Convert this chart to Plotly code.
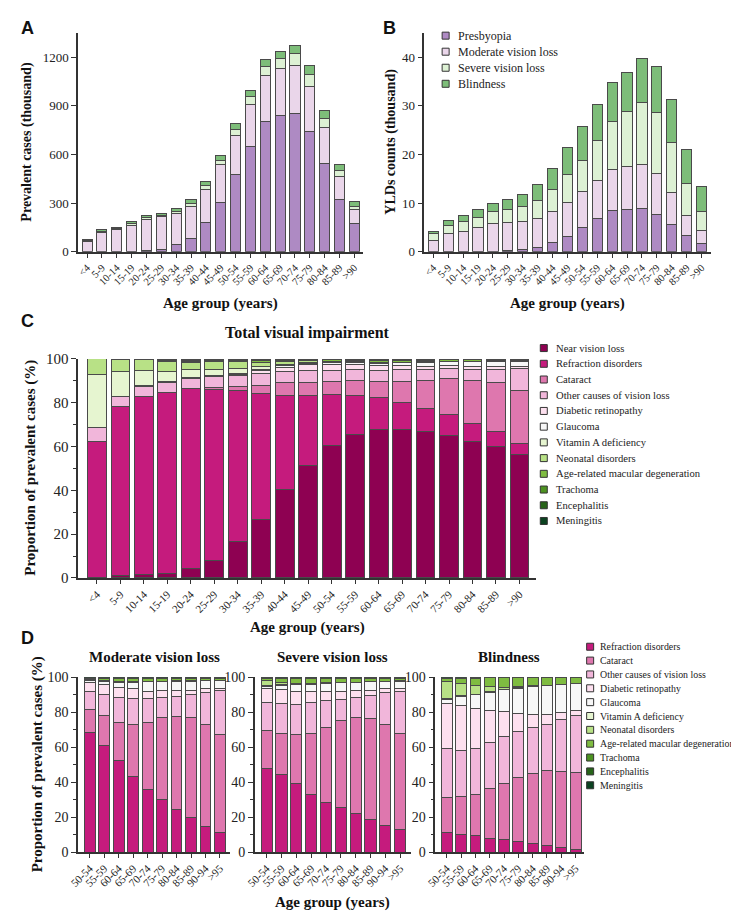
import plotly.graph_objects as go

W, H = 739, 912


def px(v):
    return v / W


def py(v):
    return 1 - v / H


age_groups = ["<4", "5-9", "10-14", "15-19", "20-24", "25-29", "30-34", "35-39", "40-44",
              "45-49", "50-54", "55-59", "60-64", "65-69", "70-74", "75-79", "80-84", "85-89", ">90"]
older_groups = ["50-54", "55-59", "60-64", "65-69", "70-74", "75-79", "80-84", "85-89", "90-94", ">95"]

# Panel A / B: severity
severity_levels = ["Presbyopia", "Moderate vision loss", "Severe vision loss", "Blindness"]
severity_colors = ["#ae8ac3", "#ead6ea", "#ddf1d4", "#7dbd79"]

cases_presbyopia = [0, 0, 0, 0, 5, 15, 45, 80, 178, 303, 475, 648, 800, 838, 850, 740, 543, 322, 172]
cases_moderate = [66, 118, 135, 165, 195, 200, 190, 200, 207, 232, 240, 262, 285, 292, 300, 280, 222, 140, 86]
cases_severe = [5, 10, 8, 8, 13, 10, 15, 20, 25, 27, 37, 45, 55, 60, 70, 70, 57, 40, 22]
cases_blindness = [7, 7, 9, 12, 12, 13, 15, 20, 25, 33, 38, 40, 45, 45, 50, 55, 48, 38, 30]

ylds_presbyopia = [0, 0, 0, 0, 0, 0.2, 0.4, 0.8, 1.9, 3.2, 5.0, 6.8, 8.4, 8.7, 8.9, 7.7, 5.6, 3.3, 1.8]
ylds_moderate = [2.4, 3.7, 4.1, 5.0, 5.9, 5.9, 5.9, 6.1, 6.4, 6.9, 7.3, 7.9, 8.6, 8.9, 9.1, 8.4, 6.5, 4.2, 2.5]
ylds_severe = [1.3, 1.8, 2.1, 2.1, 2.4, 2.6, 3.0, 3.6, 4.4, 5.7, 6.5, 8.1, 9.8, 11.2, 12.6, 12.5, 10.3, 6.6, 4.0]
ylds_blindness = [0.5, 1.0, 1.3, 1.6, 1.7, 2.0, 2.5, 3.4, 4.5, 5.7, 6.9, 7.4, 8.0, 8.0, 9.0, 9.4, 8.9, 6.9, 5.2]

# Panel C / D: causes
causes = ["Near vision loss", "Refraction disorders", "Cataract", "Other causes of vision loss",
          "Diabetic retinopathy", "Glaucoma", "Vitamin A deficiency", "Neonatal disorders",
          "Age-related macular degeneration", "Trachoma", "Encephalitis", "Meningitis"]
cause_colors = ["#8e0152", "#c51b7d", "#de77ae", "#f1b6da", "#fde0ef", "#f7f7f7",
                "#e6f5d0", "#b8e186", "#7fbc41", "#4d9221", "#276419", "#0b4220"]

total_share = {
    "Near vision loss": [0.3, 1.0, 1.5, 2.0, 4.2, 7.8, 16.8, 26.5, 40.5, 51.3, 60.4, 65.3, 67.8, 67.8, 67.0, 65.2, 62.5, 60.2, 56.5],
    "Refraction disorders": [62.0, 77.2, 81.2, 82.5, 82.1, 78.2, 68.6, 57.5, 42.8, 31.8, 23.2, 18.2, 14.5, 12.2, 10.5, 9.3, 8.2, 6.5, 4.8],
    "Cataract": [0.2, 0.1, 0.1, 0.2, 0.3, 1.0, 2.1, 4.0, 5.7, 6.1, 6.2, 6.5, 7.5, 9.5, 12.7, 16.5, 19.3, 22.3, 24.1],
    "Other causes of vision loss": [6.0, 4.3, 4.7, 4.6, 4.4, 4.8, 5.0, 5.3, 5.3, 5.6, 5.1, 5.0, 5.0, 5.5, 5.1, 4.5, 5.3, 6.2, 10.1],
    "Diabetic retinopathy": [0.1, 0.1, 0.1, 0.1, 0.2, 0.2, 0.5, 1.2, 1.9, 2.7, 2.6, 2.3, 2.0, 1.8, 1.3, 1.3, 1.3, 1.4, 1.2],
    "Glaucoma": [0.2, 0.1, 0.1, 0.1, 0.2, 0.2, 0.5, 0.7, 0.8, 0.5, 0.7, 0.9, 1.2, 1.4, 1.8, 1.8, 2.0, 2.3, 2.3],
    "Vitamin A deficiency": [24.2, 11.6, 6.8, 4.9, 3.6, 3.0, 2.3, 1.3, 0.6, 0.3, 0.3, 0.2, 0.2, 0.1, 0.1, 0.1, 0.1, 0.1, 0.1],
    "Neonatal disorders": [7.0, 5.5, 5.3, 4.5, 3.5, 3.4, 2.8, 2.0, 1.2, 0.8, 0.5, 0.3, 0.3, 0.2, 0.2, 0.2, 0.2, 0.1, 0.1],
    "Age-related macular degeneration": [0, 0.1, 0.1, 0.3, 0.5, 0.5, 0.5, 0.7, 0.6, 0.4, 0.5, 0.6, 0.7, 0.7, 0.6, 0.6, 0.6, 0.5, 0.4],
    "Trachoma": [0, 0, 0.05, 0.3, 0.3, 0.3, 0.3, 0.3, 0.2, 0.2, 0.2, 0.3, 0.4, 0.3, 0.3, 0.2, 0.2, 0.2, 0.2],
    "Encephalitis": [0, 0, 0.05, 0.3, 0.4, 0.3, 0.3, 0.3, 0.2, 0.15, 0.15, 0.2, 0.2, 0.3, 0.2, 0.15, 0.15, 0.1, 0.1],
    "Meningitis": [0, 0, 0, 0.2, 0.3, 0.3, 0.3, 0.2, 0.2, 0.15, 0.15, 0.2, 0.2, 0.2, 0.2, 0.15, 0.15, 0.1, 0.1],
}

moderate_share = {
    "Refraction disorders": [68.2, 60.9, 52.2, 43.0, 35.8, 30.2, 24.3, 19.5, 14.6, 11.0],
    "Cataract": [13.3, 17.2, 22.1, 29.7, 38.5, 46.9, 53.4, 57.6, 58.1, 56.5],
    "Other causes of vision loss": [10.6, 12.2, 14.2, 15.1, 13.5, 11.3, 11.3, 12.9, 18.5, 24.7],
    "Diabetic retinopathy": [4.7, 5.4, 5.4, 5.5, 4.2, 3.8, 3.5, 2.6, 2.1, 1.6],
    "Glaucoma": [1.1, 1.6, 2.8, 3.7, 5.4, 5.3, 5.2, 5.2, 4.6, 4.1],
    "Vitamin A deficiency": [0.3, 0.3, 0.3, 0.2, 0.1, 0.1, 0.1, 0.1, 0.1, 0.1],
    "Neonatal disorders": [0.4, 0.4, 0.3, 0.2, 0.1, 0.1, 0.1, 0.1, 0.1, 0.1],
    "Age-related macular degeneration": [0.7, 1.2, 1.7, 1.7, 1.6, 1.6, 1.5, 1.4, 1.4, 1.4],
    "Trachoma": [0.3, 0.3, 0.4, 0.4, 0.3, 0.3, 0.2, 0.2, 0.2, 0.2],
    "Encephalitis": [0.2, 0.3, 0.3, 0.3, 0.3, 0.2, 0.2, 0.2, 0.2, 0.2],
    "Meningitis": [0.2, 0.2, 0.3, 0.2, 0.2, 0.2, 0.2, 0.2, 0.1, 0.1],
}

severe_share = {
    "Refraction disorders": [47.6, 44.1, 39.0, 33.0, 28.5, 25.7, 21.9, 18.9, 15.0, 12.7],
    "Cataract": [21.7, 23.9, 28.1, 34.7, 43.0, 49.8, 54.9, 57.6, 57.7, 55.0],
    "Other causes of vision loss": [16.3, 16.7, 17.4, 17.9, 15.2, 12.0, 11.8, 13.2, 18.5, 24.4],
    "Diabetic retinopathy": [8.2, 8.2, 7.3, 6.0, 4.9, 4.1, 3.6, 2.9, 2.1, 1.7],
    "Glaucoma": [1.0, 2.1, 3.9, 4.1, 4.7, 5.2, 4.8, 4.7, 4.3, 4.0],
    "Vitamin A deficiency": [0.7, 0.6, 0.3, 0.3, 0.2, 0.1, 0.1, 0.1, 0.1, 0.1],
    "Neonatal disorders": [2.5, 1.4, 0.6, 0.5, 0.3, 0.1, 0.1, 0.1, 0.1, 0.1],
    "Age-related macular degeneration": [1.3, 2.0, 2.4, 2.5, 2.2, 2.2, 2.1, 1.9, 1.7, 1.5],
    "Trachoma": [0.3, 0.4, 0.4, 0.4, 0.4, 0.3, 0.3, 0.3, 0.2, 0.2],
    "Encephalitis": [0.25, 0.3, 0.3, 0.3, 0.3, 0.3, 0.2, 0.15, 0.15, 0.15],
    "Meningitis": [0.15, 0.3, 0.3, 0.3, 0.3, 0.2, 0.2, 0.15, 0.15, 0.15],
}

blindness_share = {
    "Refraction disorders": [11.2, 10.3, 9.3, 8.0, 7.1, 6.0, 4.9, 3.9, 2.6, 1.7],
    "Cataract": [20.0, 21.5, 23.6, 28.1, 32.3, 36.4, 39.9, 43.0, 43.7, 43.7],
    "Other causes of vision loss": [28.1, 26.2, 26.1, 26.4, 26.6, 26.4, 26.3, 26.2, 29.6, 32.5],
    "Diabetic retinopathy": [25.7, 26.0, 23.2, 18.5, 14.6, 10.6, 7.8, 5.8, 4.1, 3.1],
    "Glaucoma": [2.0, 5.0, 7.8, 10.4, 12.1, 14.4, 16.0, 16.4, 15.9, 15.4],
    "Vitamin A deficiency": [0.8, 0.5, 0.3, 0.3, 0.2, 0.2, 0.1, 0.1, 0.1, 0.1],
    "Neonatal disorders": [10.0, 6.9, 4.7, 2.8, 1.1, 0.5, 0.2, 0.1, 0.1, 0.1],
    "Age-related macular degeneration": [1.4, 2.8, 4.5, 5.1, 5.6, 5.2, 4.6, 4.3, 3.7, 3.2],
    "Trachoma": [0.3, 0.3, 0.2, 0.15, 0.15, 0.1, 0.1, 0.1, 0.1, 0.1],
    "Encephalitis": [0.3, 0.3, 0.15, 0.15, 0.15, 0.1, 0.05, 0.05, 0.05, 0.05],
    "Meningitis": [0.2, 0.2, 0.15, 0.1, 0.1, 0.1, 0.05, 0.05, 0.05, 0.05],
}

SERIF = "Liberation Serif, Times New Roman, serif"
SANS = "Liberation Sans, Arial, sans-serif"
AXIS_COLOR = "#333333"
EDGE = dict(color="#4a4a4a", width=1)

fig = go.Figure()

# A and B
for name, color, cases, ylds in zip(
        severity_levels, severity_colors,
        [cases_presbyopia, cases_moderate, cases_severe, cases_blindness],
        [ylds_presbyopia, ylds_moderate, ylds_severe, ylds_blindness]):
    fig.add_trace(go.Bar(x=age_groups, y=cases, name=name, width=0.68,
                         marker=dict(color=color, line=EDGE),
                         xaxis="x", yaxis="y", showlegend=False))
    fig.add_trace(go.Bar(x=age_groups, y=ylds, name=name, width=0.68,
                         marker=dict(color=color, line=EDGE),
                         xaxis="x2", yaxis="y2", showlegend=False))

# C
for name, color in zip(causes, cause_colors):
    fig.add_trace(go.Bar(x=age_groups, y=total_share[name], name=name, width=0.8,
                         marker=dict(color=color, line=EDGE),
                         xaxis="x3", yaxis="y3", showlegend=False))

# D
for shares, xa, ya in [(moderate_share, "x4", "y4"), (severe_share, "x5", "y5"),
                       (blindness_share, "x6", "y6")]:
    for name, color in zip(causes[1:], cause_colors[1:]):
        fig.add_trace(go.Bar(x=older_groups, y=shares[name], name=name, width=0.75,
                             marker=dict(color=color, line=EDGE),
                             xaxis=xa, yaxis=ya, showlegend=False))

# hand-made legends drawn as square markers on hidden axes
legend_specs = [
    ("x7", "y7", severity_levels, severity_colors, 433.5, 20, 69, 11.5, 12),
    ("x8", "y8", causes, cause_colors, 533, 338, 514, 11, 10.6),
    ("x9", "y9", causes[1:], cause_colors[1:], 580, 642, 783, 9, 9.9),
]
annotations = []
legend_axes = {}
for xa, ya, labels, colors, x0, top, bottom, shift, fsize in legend_specs:
    n = len(labels)
    step = (bottom - top) / (n - 1)
    fig.add_trace(go.Scatter(x=[0] * n, y=list(range(n)), mode="markers",
                             marker=dict(symbol="square", size=7, color=colors,
                                         line=dict(color="#333333", width=1)),
                             cliponaxis=False, hoverinfo="skip", showlegend=False,
                             xaxis=xa, yaxis=ya))
    legend_axes["xaxis" + xa[1:]] = dict(domain=[px(x0), 1], range=[0, 1], visible=False,
                                         anchor=ya, fixedrange=True)
    legend_axes["yaxis" + ya[1:]] = dict(domain=[py(bottom + step / 2), py(top - step / 2)],
                                         range=[n - 0.5, -0.5], visible=False,
                                         anchor=xa, fixedrange=True)
    for i, lab in enumerate(labels):
        annotations.append(dict(x=0, y=i, xref=xa, yref=ya, text=lab, showarrow=False,
                                xanchor="left", yanchor="middle", xshift=shift, borderpad=0,
                                font=dict(family=SERIF, size=fsize, color="#222222")))


def x_axis(domain, anchor, rng, fsize):
    return dict(domain=domain, anchor=anchor, type="category", range=rng,
                showline=True, linecolor=AXIS_COLOR, linewidth=1.5,
                ticks="outside", ticklen=4, tickwidth=1.2, tickcolor=AXIS_COLOR,
                tickangle=-45, tickfont=dict(family=SERIF, size=fsize, color="#222222"),
                showgrid=False, zeroline=False, fixedrange=True)


def y_axis(domain, anchor, rng, dtick, fsize, minor=None):
    d = dict(domain=domain, anchor=anchor, range=rng, dtick=dtick, tick0=0,
             showline=True, linecolor=AXIS_COLOR, linewidth=1.5,
             ticks="outside", ticklen=5, tickwidth=1.2, tickcolor=AXIS_COLOR,
             tickfont=dict(family=SERIF, size=fsize, color="#222222"),
             showgrid=False, zeroline=False, fixedrange=True)
    if minor:
        d["minor"] = dict(dtick=minor, ticks="outside", ticklen=3, tickcolor=AXIS_COLOR,
                          showgrid=False)
    return d


ab_y = [py(240), py(17)]
c_y = [py(572), py(349)]
d_y = [py(851), py(673)]

layout_axes = dict(
    xaxis=x_axis([px(61), px(350)], "y", [-0.6, 18.6], 10.5),
    yaxis=y_axis(ab_y, "x", [0, 1350], 300, 13),
    xaxis2=x_axis([px(412), px(702)], "y2", [-0.6, 18.6], 10.5),
    yaxis2=y_axis(ab_y, "x2", [0, 45], 10, 13),
    xaxis3=x_axis([px(61), px(525)], "y3", [-0.8, 18.7], 11),
    yaxis3=y_axis(c_y, "x3", [0, 100], 20, 15, minor=10),
    xaxis4=x_axis([px(61), px(215)], "y4", [-0.8, 9.7], 11),
    yaxis4=y_axis(d_y, "x4", [0, 100], 20, 14, minor=10),
    xaxis5=x_axis([px(240), px(398)], "y5", [-0.8, 9.7], 11),
    yaxis5=y_axis(d_y, "x5", [0, 100], 20, 14, minor=10),
    xaxis6=x_axis([px(423), px(574)], "y6", [-0.8, 9.6], 11),
    yaxis6=y_axis(d_y, "x6", [0, 100], 20, 14, minor=10),
)
layout_axes.update(legend_axes)


def label(text, x, y, size, family=SERIF, angle=0, bold=True):
    return dict(text="<b>%s</b>" % text if bold else text, x=px(x), y=py(y),
                xref="paper", yref="paper", showarrow=False, textangle=angle,
                xanchor="center", yanchor="middle",
                font=dict(family=family, size=size, color="#111111"))


annotations += [
    label("A", 10, 12, 18, SANS),
    label("B", 377, 12, 18, SANS),
    label("C", 10, 310, 18, SANS),
    label("D", 10, 633, 18, SANS),
    label("Prevalent cases (thousand)", 9, 128, 14, angle=-90),
    label("YLDs counts (thousand)", 378, 128, 14, angle=-90),
    label("Age group (years)", 205, 293, 15),
    label("Age group (years)", 557, 293, 15),
    label("Total visual impairment", 293, 323, 16),
    label("Proportion of prevalent cases (%)", 13, 460, 15, angle=-90),
    label("Age group (years)", 293, 622, 15),
    label("Moderate vision loss", 138, 652, 15),
    label("Severe vision loss", 319, 652, 15),
    label("Blindness", 498, 652, 15),
    label("Proportion of prevalent cases (%)", 20, 762, 15, angle=-90),
    label("Age group (years)", 319, 902, 15),
]

fig.update_layout(
    width=W, height=H,
    margin=dict(l=0, r=0, t=0, b=0),
    barmode="stack",
    paper_bgcolor="white", plot_bgcolor="rgba(0,0,0,0)",
    showlegend=False,
    annotations=annotations,
    **layout_axes,
)

fig.write_html("out.html", config={"displayModeBar": False})
